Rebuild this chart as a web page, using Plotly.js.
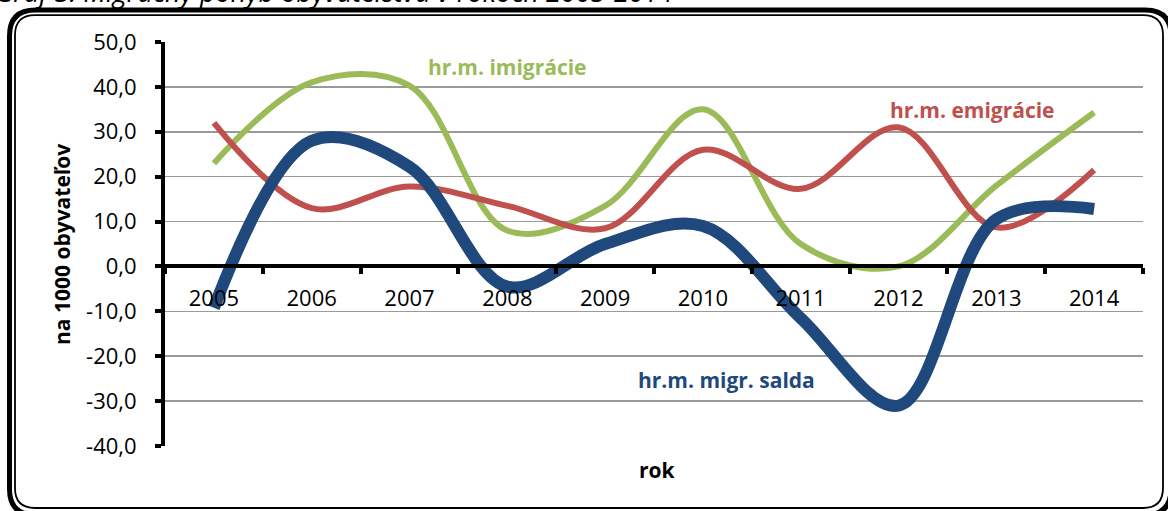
<!DOCTYPE html>
<html>
<head>
<meta charset="utf-8">
<script src="https://cdn.plot.ly/plotly-3.0.1.min.js"></script>
<style>
  html, body { margin: 0; padding: 0; background: #ffffff; }
  #chart { width: 1168px; height: 511px; }
</style>
</head>
<body>
<div id="chart"></div>
<script>
// ---- data ----
const years = ['2005', '2006', '2007', '2008', '2009', '2010', '2011', '2012', '2013', '2014'];
const imigracie = [23.0, 41.0, 40.3, 8.0, 13.5, 35.0, 5.0, 0.0, 18.0, 34.3];
const emigracie = [32.0, 13.0, 17.8, 13.5, 8.5, 26.0, 17.3, 31.0, 8.7, 21.5];
const salda = [-9.2, 28.0, 22.2, -4.5, 5.0, 9.0, -11.5, -31.0, 10.5, 12.8];
const yTickVals = [-40, -30, -20, -10, 0, 10, 20, 30, 40, 50];
const yTickText = ['-40,0', '-30,0', '-20,0', '-10,0', '0,0', '10,0', '20,0', '30,0', '40,0', '50,0'];

const labelImig = 'hr.m. imigrácie';
const labelEmig = 'hr.m. emigrácie';
const labelSalda = 'hr.m. migr. salda';
const chartTitle = 'Graf 3: Migračný pohyb obyvateľstva v rokoch 2005-2014';
const yTitle = 'na 1000 obyvateľov';
const xTitle = 'rok';

// ---- layout geometry ----
const W = 1168, H = 511;
const M = { l: 165, r: 25, t: 42, b: 65 };
const PW = W - M.l - M.r, PH = H - M.t - M.b;
const px = x => (x - M.l) / PW;
const py = y => (M.t + PH - y) / PH;

function roundRect(x0, y0, x1, y1, r) {
  const P = (x, y) => px(x) + ',' + py(y);
  return 'M' + P(x0 + r, y0) +
    ' L' + P(x1 - r, y0) + ' Q' + P(x1, y0) + ' ' + P(x1, y0 + r) +
    ' L' + P(x1, y1 - r) + ' Q' + P(x1, y1) + ' ' + P(x1 - r, y1) +
    ' L' + P(x0 + r, y1) + ' Q' + P(x0, y1) + ' ' + P(x0, y1 - r) +
    ' L' + P(x0, y0 + r) + ' Q' + P(x0, y0) + ' ' + P(x0 + r, y0) + ' Z';
}

const FONT = 'Open Sans, Liberation Sans, sans-serif';
const GREEN = '#9BBB59', RED = '#C0504D', BLUE = '#1F497D';

const traces = [
  { x: years, y: imigracie, name: labelImig, type: 'scatter', mode: 'lines',
    line: { color: GREEN, width: 6, shape: 'spline', smoothing: 1 } },
  { x: years, y: emigracie, name: labelEmig, type: 'scatter', mode: 'lines',
    line: { color: RED, width: 6, shape: 'spline', smoothing: 1 } },
  { x: years, y: salda, name: labelSalda, type: 'scatter', mode: 'lines',
    line: { color: BLUE, width: 12, shape: 'spline', smoothing: 1 } }
];

const layout = {
  width: W, height: H,
  margin: M,
  paper_bgcolor: '#ffffff', plot_bgcolor: '#ffffff',
  showlegend: false,
  font: { family: FONT, color: '#000000', size: 20 },
  xaxis: {
    type: 'category',
    range: [-0.5, 9.5],
    anchor: 'free', position: 40 / 90,
    showline: true, linecolor: '#000000', linewidth: 4,
    ticks: 'outside', tickson: 'boundaries', ticklen: 6, tickwidth: 4, tickcolor: '#000000',
    showgrid: false, zeroline: false,
    tickfont: { family: FONT, size: 22, color: '#000000' },
    ticklabelstandoff: 11
  },
  yaxis: {
    range: [-40, 50],
    tickmode: 'array', tickvals: yTickVals, ticktext: yTickText,
    showline: true, linecolor: '#000000', linewidth: 4,
    ticks: 'outside', ticklen: 6, tickwidth: 4, tickcolor: '#000000',
    showgrid: true, gridcolor: '#9a9a9a', gridwidth: 1.5,
    zeroline: false,
    tickfont: { family: FONT, size: 22, color: '#000000' },
    ticklabelstandoff: 14
  },
  shapes: [
    { type: 'path', xref: 'paper', yref: 'paper', path: roundRect(9.5, 10, 1171, 515, 26),
      line: { color: '#000000', width: 5 }, fillcolor: 'rgba(0,0,0,0)', layer: 'below' },
    { type: 'path', xref: 'paper', yref: 'paper', path: roundRect(15, 15.2, 1163, 508, 20),
      line: { color: '#000000', width: 1.8 }, fillcolor: 'rgba(0,0,0,0)', layer: 'below' }
  ],
  annotations: [
    { text: chartTitle, xref: 'paper', yref: 'paper', x: px(-7), y: py(-8),
      xanchor: 'left', yanchor: 'middle', showarrow: false,
      font: { family: FONT, size: 27, color: '#000000', style: 'italic' } },
    { text: '<b>' + labelImig + '</b>', xref: 'paper', yref: 'paper', x: px(507), y: py(67),
      xanchor: 'center', yanchor: 'middle', showarrow: false,
      font: { family: FONT, size: 21, color: GREEN } },
    { text: '<b>' + labelEmig + '</b>', xref: 'paper', yref: 'paper', x: px(972), y: py(110),
      xanchor: 'center', yanchor: 'middle', showarrow: false,
      font: { family: FONT, size: 21, color: RED } },
    { text: '<b>' + labelSalda + '</b>', xref: 'paper', yref: 'paper', x: px(726), y: py(380),
      xanchor: 'center', yanchor: 'middle', showarrow: false,
      font: { family: FONT, size: 21, color: BLUE } },
    { text: '<b>' + yTitle + '</b>', xref: 'paper', yref: 'paper', x: px(62), y: py(245),
      xanchor: 'center', yanchor: 'middle', textangle: -90, showarrow: false,
      font: { family: FONT, size: 21, color: '#000000' } },
    { text: '<b>' + xTitle + '</b>', xref: 'paper', yref: 'paper', x: px(657), y: py(470),
      xanchor: 'center', yanchor: 'middle', showarrow: false,
      font: { family: FONT, size: 21, color: '#000000' } }
  ]
};

Plotly.newPlot('chart', traces, layout, { staticPlot: true, displayModeBar: false });
</script>
</body>
</html>
